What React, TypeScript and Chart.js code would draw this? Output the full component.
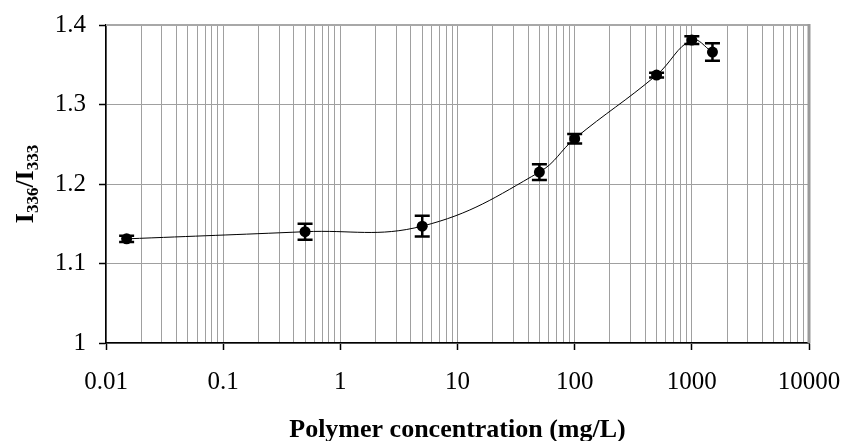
import React, { useEffect, useRef } from 'react';
import { Chart, registerables } from 'chart.js';

Chart.register(...registerables);

// ---- data ----
const concentrations = [0.015, 0.5, 5, 50, 100, 500, 1000, 1500];
const ratios = [1.131, 1.140, 1.147, 1.215, 1.257, 1.337, 1.381, 1.366];
const errors = [0.004, 0.010, 0.013, 0.010, 0.006, 0.003, 0.005, 0.011];

const xTickValues = [0.01, 0.1, 1, 10, 100, 1000, 10000];
const xTickLabels = ['0.01', '0.1', '1', '10', '100', '1000', '10000'];
const yTickValues = [1, 1.1, 1.2, 1.3, 1.4];
const yTickLabels = ['1', '1.1', '1.2', '1.3', '1.4'];

const xTitle = 'Polymer concentration (mg/L)';
const yTitleParts = [
  { text: 'I', sub: false },
  { text: '336', sub: true },
  { text: '/I', sub: false },
  { text: '333', sub: true },
];

const FONT = '"Liberation Serif", "Times New Roman", serif';

const errorBarPlugin = {
  id: 'errorBars',
  afterDatasetsDraw(chart: any) {
    const { ctx, scales } = chart;
    const x = scales.x;
    const y = scales.y;
    ctx.save();
    ctx.strokeStyle = '#000';
    ctx.lineWidth = 2.5;
    concentrations.forEach((c, i) => {
      const px = x.getPixelForValue(c);
      const top = y.getPixelForValue(ratios[i] + errors[i]);
      const bot = y.getPixelForValue(ratios[i] - errors[i]);
      ctx.beginPath();
      ctx.moveTo(px, top);
      ctx.lineTo(px, bot);
      ctx.moveTo(px - 7.5, top);
      ctx.lineTo(px + 7.5, top);
      ctx.moveTo(px - 7.5, bot);
      ctx.lineTo(px + 7.5, bot);
      ctx.stroke();
    });
    ctx.restore();
  },
};

const framePlugin = {
  id: 'frame',
  beforeDatasetsDraw(chart: any) {
    const { ctx, chartArea } = chart;
    const { left, right, top, bottom } = chartArea;
    ctx.save();
    ctx.strokeStyle = '#a8a8a8';
    ctx.lineWidth = 2;
    ctx.beginPath();
    ctx.moveTo(left, top);
    ctx.lineTo(right, top);
    ctx.stroke();
    ctx.strokeStyle = '#9a9a9a';
    ctx.lineWidth = 3;
    ctx.beginPath();
    ctx.moveTo(right, top - 1);
    ctx.lineTo(right, bottom);
    ctx.stroke();
    ctx.restore();
  },
};

const titlesPlugin = {
  id: 'titles',
  afterDraw(chart: any) {
    const { ctx, chartArea } = chart;
    ctx.save();
    ctx.fillStyle = '#000';
    // x title
    ctx.font = `bold 26px ${FONT}`;
    ctx.textAlign = 'center';
    ctx.textBaseline = 'alphabetic';
    ctx.fillText(xTitle, (chartArea.left + chartArea.right) / 2, 437);

    // y title (rotated, with subscripts)
    const bigFont = `bold 26px ${FONT}`;
    const subFont = `bold 17px ${FONT}`;
    let total = 0;
    yTitleParts.forEach((p) => {
      ctx.font = p.sub ? subFont : bigFont;
      total += ctx.measureText(p.text).width;
    });
    ctx.translate(33, (chartArea.top + chartArea.bottom) / 2);
    ctx.rotate(-Math.PI / 2);
    ctx.textAlign = 'left';
    let pos = -total / 2;
    yTitleParts.forEach((p) => {
      ctx.font = p.sub ? subFont : bigFont;
      ctx.fillText(p.text, pos, p.sub ? 5 : 0);
      pos += ctx.measureText(p.text).width;
    });
    ctx.restore();
  },
};

function findIndex(values: number[], v: number) {
  return values.findIndex((t) => Math.abs(t - v) / Math.abs(t) < 1e-6);
}

export default function App() {
  const canvasRef = useRef<HTMLCanvasElement | null>(null);

  useEffect(() => {
    document.body.style.margin = '0';
    const canvas = canvasRef.current;
    if (!canvas) return;

    const chart = new Chart(canvas, {
      type: 'scatter',
      data: {
        datasets: [
          {
            data: concentrations.map((c, i) => ({ x: c, y: ratios[i] })),
            showLine: true,
            borderColor: '#000',
            borderWidth: 1,
            tension: 0.4,
            pointRadius: 5.5,
            pointBackgroundColor: '#000',
            pointBorderColor: '#000',
            pointBorderWidth: 0,
          },
        ],
      },
      options: {
        responsive: false,
        animation: false,
        devicePixelRatio: 1,
        layout: { padding: { top: 25, right: 36, left: 0, bottom: 0 } },
        plugins: {
          legend: { display: false },
          tooltip: { enabled: false },
        },
        scales: {
          x: {
            type: 'logarithmic',
            min: 0.01,
            max: 10000,
            afterBuildTicks(scale: any) {
              const ticks: any[] = [];
              for (let i = 0; i < xTickValues.length - 1; i++) {
                for (let k = 1; k <= 9; k++) {
                  ticks.push({ value: xTickValues[i] * k, major: k === 1 });
                }
              }
              ticks.push({ value: xTickValues[xTickValues.length - 1], major: true });
              scale.ticks = ticks;
            },
            afterFit(scale: any) {
              scale.height = 98;
              scale.paddingLeft = 0;
              scale.paddingRight = 0;
            },
            ticks: {
              autoSkip: false,
              maxRotation: 0,
              minRotation: 0,
              padding: 17,
              color: '#000',
              font: { family: FONT, size: 25 },
              callback(value: any) {
                const j = findIndex(xTickValues, Number(value));
                return j >= 0 ? xTickLabels[j] : '';
              },
            },
            grid: {
              color: '#a0a0a0',
              lineWidth: 1,
              tickLength: 7,
              tickWidth: 1.5,
              tickColor: (ctx: any) => (ctx.tick && ctx.tick.major ? '#000' : 'rgba(0,0,0,0)'),
            },
            border: { display: true, color: '#000', width: 1.5 },
          },
          y: {
            type: 'linear',
            min: 1,
            max: 1.4,
            afterBuildTicks(scale: any) {
              scale.ticks = yTickValues.map((v) => ({ value: v }));
            },
            afterFit(scale: any) {
              scale.width = 106;
              scale.paddingTop = 0;
              scale.paddingBottom = 0;
            },
            ticks: {
              padding: 13,
              color: '#000',
              font: { family: FONT, size: 25 },
              callback(value: any) {
                const j = findIndex(yTickValues, Number(value));
                return j >= 0 ? yTickLabels[j] : '';
              },
            },
            grid: {
              color: '#a0a0a0',
              lineWidth: 1,
              tickLength: 7,
              tickWidth: 1.5,
              tickColor: '#000',
            },
            border: { display: true, color: '#000', width: 1.5 },
          },
        },
      },
      plugins: [framePlugin, errorBarPlugin, titlesPlugin],
    });

    return () => chart.destroy();
  }, []);

  return (
    <div style={{ position: 'absolute', left: 0, top: 0, width: 845, height: 441 }}>
      <canvas ref={canvasRef} width={845} height={441} style={{ display: 'block' }} />
    </div>
  );
}
